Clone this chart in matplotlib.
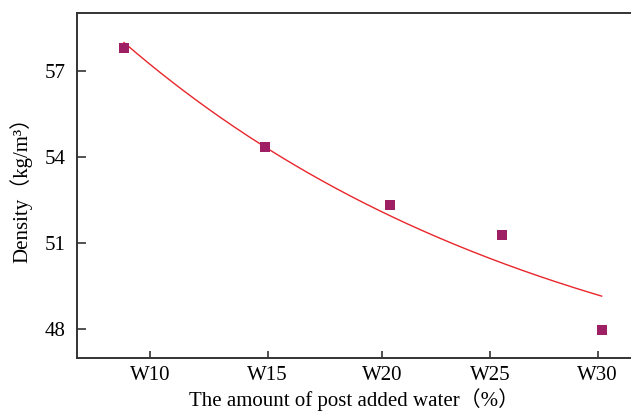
import numpy as np
import matplotlib
matplotlib.use("Agg")
import matplotlib.pyplot as plt

# data
water = [8.84, 15.14, 20.72, 25.71, 30.18]
density = [57.79, 54.33, 52.31, 51.28, 47.97]
# points
fit_x = [8.84, 11.19, 12.68, 14.91, 15.81, 18.04, 20.27, 22.51, 22.96, 25.19, 27.42, 30.18]
fit_y = [57.99, 56.60, 55.50, 54.40, 53.99, 52.95, 52.14, 51.44, 51.19, 50.52, 49.82, 49.07]
tick_pos = [10, 15.26, 20.38, 25.2, 30]
tick_labels = ["W10", "W15", "W20", "W25", "W30"]
y_ticks = [48, 51, 54, 57]

plt.rcParams['font.family'] = ['Liberation Serif', 'Noto Sans CJK SC']

fig = plt.figure(figsize=(6.31, 4.13), dpi=100)
ax = fig.add_axes([0.122, 0.1332, 0.878, 0.8353])

fx = np.array(fit_x)
fy = np.array(fit_y)
# exponential decay y = y0 + A*exp(-x/t) fitted to the curve readings
best = None
for t in np.linspace(3, 200, 4000):
    M = np.column_stack([np.ones_like(fx), np.exp(-fx / t)])
    coef, *_ = np.linalg.lstsq(M, fy, rcond=None)
    r = np.sum((M @ coef - fy) ** 2)
    if best is None or r < best[0]:
        best = (r, t, coef)
_, t, coef = best
xs = np.linspace(fx.min(), fx.max(), 200)
ys = coef[0] + coef[1] * np.exp(-xs / t)
ax.plot(xs, ys, color='#E8262B', lw=1.0, zorder=2)
ax.plot(water, density, 's', color='#9E1F63', markersize=7.5, zorder=3, markeredgewidth=0)

ax.set_xlim(6.74, 31.49)
ax.set_ylim(47, 59)
ax.set_xticks(tick_pos)
ax.set_xticklabels(tick_labels)
ax.set_yticks(y_ticks)
ax.tick_params(axis='y', direction='in', length=6.5, width=1.2, color='#333333', labelsize=15, pad=8)
ax.tick_params(axis='x', direction='in', length=4.8, width=1.2, color='#333333', labelsize=15, pad=6)
for s in ['left', 'bottom', 'top']:
    ax.spines[s].set_linewidth(1.4)
    ax.spines[s].set_color('#333333')
ax.spines['right'].set_visible(False)

ax.set_xlabel("The amount of post added water（%）", fontsize=15, labelpad=2)
ax.set_ylabel("Density（kg/m³）", fontsize=15, labelpad=9)

fig.savefig("out.png", dpi=100)
